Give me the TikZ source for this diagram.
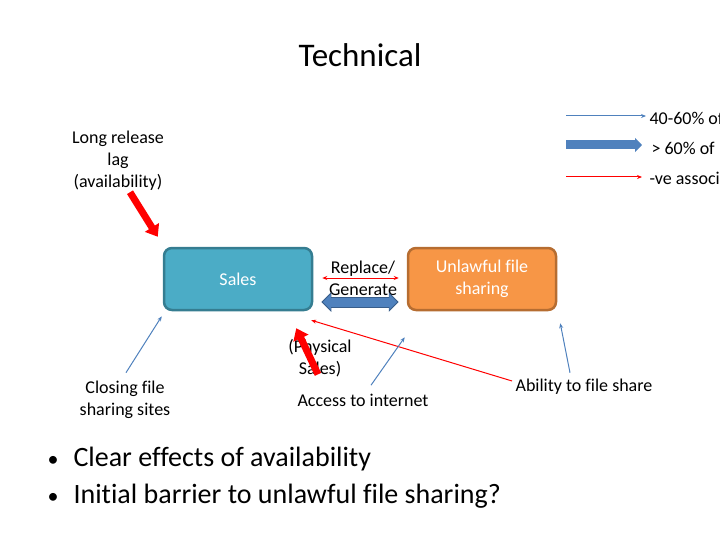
\documentclass[tikz,border=0pt]{standalone}
\usepackage{fontspec}
\setmainfont{Carlito}[Ligatures=NoCommon]
\usetikzlibrary{positioning, calc, arrows.meta}

\definecolor{salesblue}{HTML}{4BACC6}
\definecolor{salesedge}{HTML}{357D91}
\definecolor{shareorange}{HTML}{F79646}
\definecolor{shareedge}{HTML}{B66D31}
\definecolor{linkblue}{HTML}{4F81BD}
\definecolor{linkedge}{HTML}{385D8A}

\begin{document}
\begin{tikzpicture}[
            x=1pt, y=-1pt,
            node distance=18pt,
            box/.style={rectangle, draw, rounded corners=8pt, line width=2.5pt, minimum width=148pt, minimum height=62pt, align=center, font=\fontsize{18}{22}\selectfont, text=white},
            salesbox/.style={box, fill=salesblue, draw=salesedge},
            sharebox/.style={box, fill=shareorange, draw=shareedge},
            label/.style={align=center, font=\fontsize{18}{22}\selectfont},
            legend/.style={anchor=west, font=\fontsize{18}{20}\selectfont},
            bullet/.style={anchor=base west, font=\fontsize{28}{34}\selectfont},
            weak/.style={-{Stealth[length=5pt,width=4pt]}, line width=1pt, linkblue},
            strong/.style={-{Triangle[length=8pt,width=16pt]}, line width=9pt, linkblue},
            bothedge/.style={{Triangle[length=10pt,width=19pt]}-{Triangle[length=10pt,width=19pt]}, line width=11pt, linkedge},
            both/.style={strong, {Triangle[length=8pt,width=15pt]}-{Triangle[length=8pt,width=15pt]}},
            neg/.style={-{Stealth[length=5pt,width=4pt]}, line width=1pt, red},
            negbig/.style={-{Triangle[length=11pt,width=16pt]}, line width=7pt, red}
        ]
            \useasboundingbox (0,0) rectangle (720,540);

            % --- Node Placement ---
            \node[font=\fontsize{33}{36}\selectfont] (title) at (360,55) {Technical};
            \node[salesbox] (sales) at (238,279) {Sales};
            \node[sharebox] (share) at (482,279) {Unlawful file\\sharing};
            \node[label] (replace) at (363,278) {Replace/\\Generate};
            \node[label] (lag) at (118,161) {Long release\\lag\\(availability)};
            \node[label] (closing) at (125,400) {Closing file\\sharing sites};
            \node[label] (phys) at (320,358) {(Physical\\Sales)};
            \node[label] (access) at (363,400) {Access to internet};
            \node[label] (ability) at (584,387) {Ability to file share};

            % --- Legend ---
            \node[legend] (leg1) at (646,118) {40-60\% of};
            \node[legend] (leg2) at (648,148) {> 60\% of};
            \node[legend] (leg3) at (646,178) {-ve association};
            \coordinate (l1) at (566,116);
            \coordinate (l2) at (566,145);
            \coordinate (l3) at (566,177);
            \draw[weak] (l1) -- (l1 -| leg1.west);
            \draw[strong, -{Triangle[length=7pt,width=14pt]}] (l2) -- ($(l2 -| leg2.west)+(-6,0)$);
            \draw[neg] (l3) -- ($(l3 -| leg3.west)+(-4,0)$);

            % --- Links ---
            \draw[neg, {Stealth[length=5pt,width=4pt]}-{Stealth[length=5pt,width=4pt]}] ($(sales.east)+(9,-1)$) -- ($(share.west)+(-8,-1)$);
            \draw[bothedge] ($(sales.east)+(8,23)$) -- ($(share.west)+(-8,23)$);
            \draw[both] ($(sales.east)+(9.5,23)$) -- ($(share.west)+(-9.5,23)$);
            \draw[negbig] ($(lag.south)+(12,-2)$) -- ($(sales.north west)+(-5,-10)$);
            \draw[weak] ($(closing.north)+(1,-5)$) -- ($(sales.south west)+(-1,5)$);
            \draw[negbig] ($(phys.south)+(-2,-6)$) -- ($(sales.south east)+(-17,17)$);
            \draw[neg] ($(ability.west)+(0,-6)$) -- ($(sales.south east)+(-2,9)$);
            \draw[weak] ($(access.north)+(8,-5)$) -- ($(share.south west)+(-2,26)$);
            \draw[weak] ($(ability.north)+(-14,-3)$) -- ($(share.south east)+(3,12)$);

            % --- Bullets ---
            \node[bullet] (point1) at (44,466) {\makebox[26pt][l]{\fontsize{22}{22}\selectfont•}Clear effects of availability};
            \node[bullet, below=6pt of point1.south west, anchor=north west] (point2) {\makebox[26pt][l]{\fontsize{22}{22}\selectfont•}Initial barrier to unlawful file sharing?};
        \end{tikzpicture}
\end{document}
